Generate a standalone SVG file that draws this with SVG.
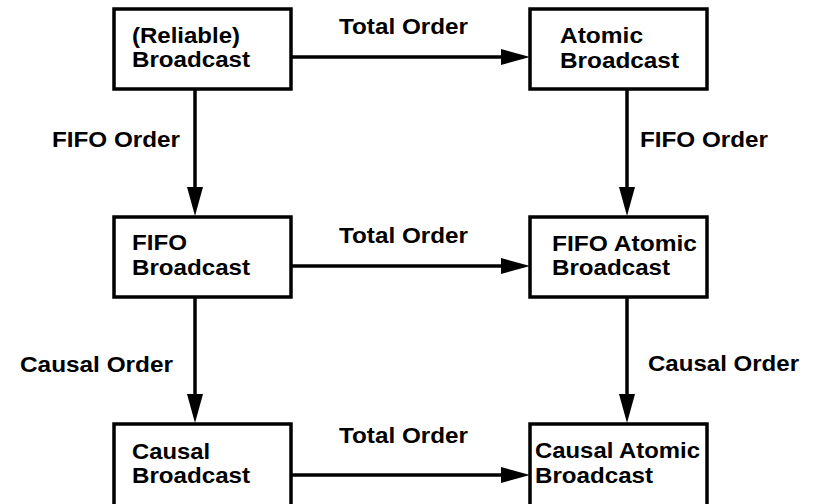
<svg xmlns="http://www.w3.org/2000/svg" width="814" height="504" viewBox="0 0 814 504">
<defs>
<style>
.box{fill:#fff;stroke:#000;stroke-width:3.5}
.t{font-family:"Liberation Sans",Arial,sans-serif;font-weight:bold;font-size:22px;fill:#000}
.c{stroke:#000;stroke-width:3.5;fill:none}
</style>
<marker id="ah" viewBox="0 0 29 16" refX="0" refY="8" markerWidth="29" markerHeight="16" markerUnits="userSpaceOnUse" orient="auto">
<path d="M0,0 L29,8 L0,16 z" fill="#000"/>
</marker>
</defs>
<rect width="814" height="504" fill="#fff"/>
<g id="connectors">
<line class="c" x1="291" y1="57" x2="501" y2="57" marker-end="url(#ah)"/>
<line class="c" x1="291" y1="266" x2="501" y2="266" marker-end="url(#ah)"/>
<line class="c" x1="291" y1="475" x2="501" y2="475" marker-end="url(#ah)"/>
<line class="c" x1="195" y1="89" x2="195" y2="187" marker-end="url(#ah)"/>
<line class="c" x1="195" y1="297" x2="195" y2="394" marker-end="url(#ah)"/>
<line class="c" x1="627" y1="89" x2="627" y2="187" marker-end="url(#ah)"/>
<line class="c" x1="627" y1="297" x2="627" y2="394" marker-end="url(#ah)"/>
<text class="t" x="339" y="34" textLength="129" lengthAdjust="spacingAndGlyphs">Total Order</text>
<text class="t" x="339" y="243" textLength="129" lengthAdjust="spacingAndGlyphs">Total Order</text>
<text class="t" x="339" y="443" textLength="129" lengthAdjust="spacingAndGlyphs">Total Order</text>
<text class="t" x="52" y="147" textLength="128" lengthAdjust="spacingAndGlyphs">FIFO Order</text>
<text class="t" x="640" y="147" textLength="128" lengthAdjust="spacingAndGlyphs">FIFO Order</text>
<text class="t" x="20" y="372" textLength="153" lengthAdjust="spacingAndGlyphs">Causal Order</text>
<text class="t" x="648" y="371" textLength="151" lengthAdjust="spacingAndGlyphs">Causal Order</text>
</g>
<g id="reliable">
<rect class="box" x="114" y="9" width="177" height="80"/>
<text class="t" x="132" y="43" textLength="108" lengthAdjust="spacingAndGlyphs">(Reliable)</text>
<text class="t" x="132" y="67" textLength="118" lengthAdjust="spacingAndGlyphs">Broadcast</text>
</g>
<g id="atomic">
<rect class="box" x="530" y="9" width="177" height="80"/>
<text class="t" x="560" y="43" textLength="83" lengthAdjust="spacingAndGlyphs">Atomic</text>
<text class="t" x="560" y="68" textLength="119" lengthAdjust="spacingAndGlyphs">Broadcast</text>
</g>
<g id="fifo">
<rect class="box" x="114" y="217" width="177" height="80"/>
<text class="t" x="132" y="250" textLength="55" lengthAdjust="spacingAndGlyphs">FIFO</text>
<text class="t" x="132" y="275" textLength="118" lengthAdjust="spacingAndGlyphs">Broadcast</text>
</g>
<g id="fifo-atomic">
<rect class="box" x="530" y="217" width="177" height="80"/>
<text class="t" x="552" y="251" textLength="145" lengthAdjust="spacingAndGlyphs">FIFO Atomic</text>
<text class="t" x="552" y="275" textLength="118" lengthAdjust="spacingAndGlyphs">Broadcast</text>
</g>
<g id="causal">
<rect class="box" x="114" y="424" width="177" height="84"/>
<text class="t" x="132" y="459" textLength="78" lengthAdjust="spacingAndGlyphs">Causal</text>
<text class="t" x="132" y="483" textLength="118" lengthAdjust="spacingAndGlyphs">Broadcast</text>
</g>
<g id="causal-atomic">
<rect class="box" x="530" y="424" width="177" height="84"/>
<text class="t" x="535" y="458" textLength="165" lengthAdjust="spacingAndGlyphs">Causal Atomic</text>
<text class="t" x="535" y="483" textLength="118" lengthAdjust="spacingAndGlyphs">Broadcast</text>
</g>
</svg>
